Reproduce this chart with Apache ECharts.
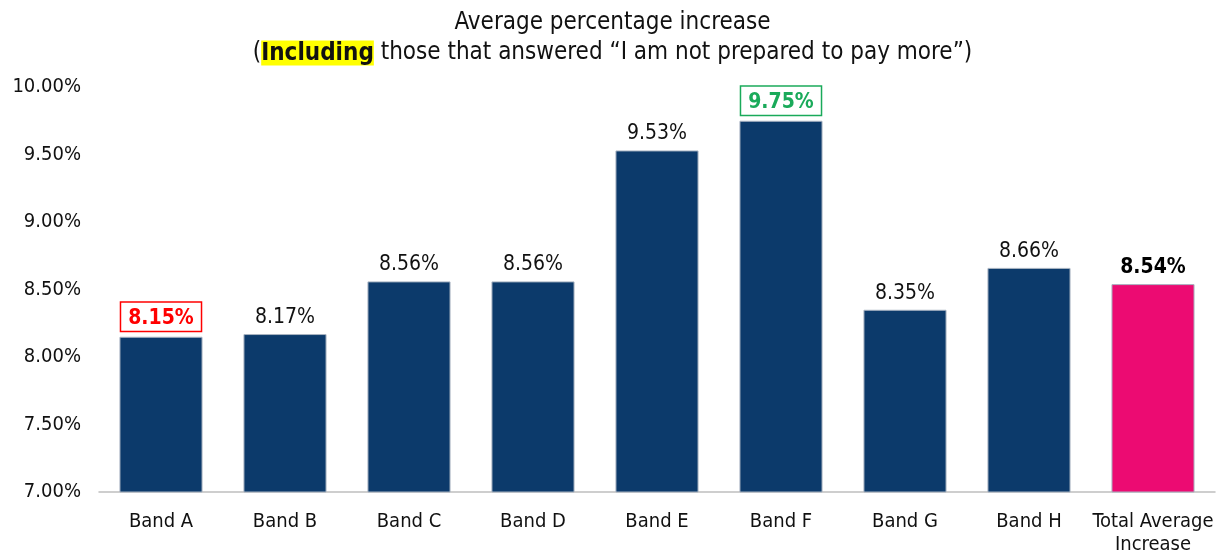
<!DOCTYPE html>
<html>
<head>
<meta charset="utf-8">
<script src="https://cdn.jsdelivr.net/npm/echarts@6/dist/echarts.min.js"></script>
<style>
html, body { margin: 0; padding: 0; background: #fff; }
#chart { width: 1225px; height: 556px; }
</style>
</head>
<body>
<div id="chart"></div>
<script>
var categories = ['Band A', 'Band B', 'Band C', 'Band D', 'Band E', 'Band F', 'Band G', 'Band H', 'Total Average\nIncrease'];
var values = [8.15, 8.17, 8.56, 8.56, 9.53, 9.75, 8.35, 8.66, 8.54];
var yTicks = [7.0, 7.5, 8.0, 8.5, 9.0, 9.5, 10.0];

var FONT = '"DejaVu Sans Condensed", "DejaVu Sans", sans-serif';
var NAVY = '#0C3A6B';
var PINK = '#EC0B72';

var chart = echarts.init(document.getElementById('chart'));

var data = values.map(function (v, i) {
	var item = { value: v };
	if (i === values.length - 1) {
		item.itemStyle = { color: PINK };
		item.label = { fontWeight: 'bold', color: '#000' };
	} else if (i === 0) {
		// lowest band
		item.label = {
			fontWeight: 'bold', color: '#FF0000',
			borderColor: '#FF0000', borderWidth: 1.5,
			padding: [5, 7, 2, 7], backgroundColor: '#fff'
		};
	} else if (i === 5) {
		// highest band
		item.label = {
			fontWeight: 'bold', color: '#1AAA5A',
			borderColor: '#1AAA5A', borderWidth: 1.5,
			padding: [5, 7, 2, 7], backgroundColor: '#fff'
		};
	}
	return item;
});

var option = {
	animation: false,
	textStyle: { fontFamily: FONT },
	title: {
		left: 'center',
		top: 3,
		text: 'Average percentage increase\n({hl|Including} those that answered \u201cI am not prepared to pay more\u201d)',
		textStyle: {
			fontFamily: FONT,
			fontSize: 24,
			fontWeight: 'normal',
			color: '#111',
			lineHeight: 30,
			rich: {
				hl: {
					fontFamily: FONT,
					fontSize: 24,
					fontWeight: 'bold',
					color: '#111',
					backgroundColor: '#FFFF00',
					lineHeight: 30,
					padding: [1, 0, 0, 0]
				}
			}
		}
	},
	grid: {
		left: 99,
		right: 10,
		top: 87,
		bottom: 63
	},
	xAxis: {
		type: 'category',
		data: categories,
		axisLine: { lineStyle: { color: '#BFBFBF', width: 1.5 } },
		axisTick: { show: false },
		axisLabel: {
			color: '#111',
			fontSize: 20,
			fontFamily: FONT,
			margin: 18,
			lineHeight: 23,
			interval: 0
		}
	},
	yAxis: {
		type: 'value',
		min: yTicks[0],
		max: yTicks[yTicks.length - 1],
		interval: 0.5,
		axisLine: { show: false },
		axisTick: { show: false },
		splitLine: { show: false },
		axisLabel: {
			color: '#111',
			fontSize: 20,
			fontFamily: FONT,
			margin: 18,
			formatter: function (v) { return v.toFixed(2) + '%'; }
		}
	},
	series: [{
		type: 'bar',
		data: data,
		barWidth: '67%',
		itemStyle: {
			color: NAVY,
			borderColor: '#A9B4C2',
			borderWidth: 1
		},
		label: {
			show: true,
			position: 'top',
			distance: 6,
			fontSize: 21,
			fontFamily: FONT,
			color: '#111',
			formatter: function (p) { return p.value.toFixed(2) + '%'; }
		}
	}]
};

chart.setOption(option);
</script>
</body>
</html>
